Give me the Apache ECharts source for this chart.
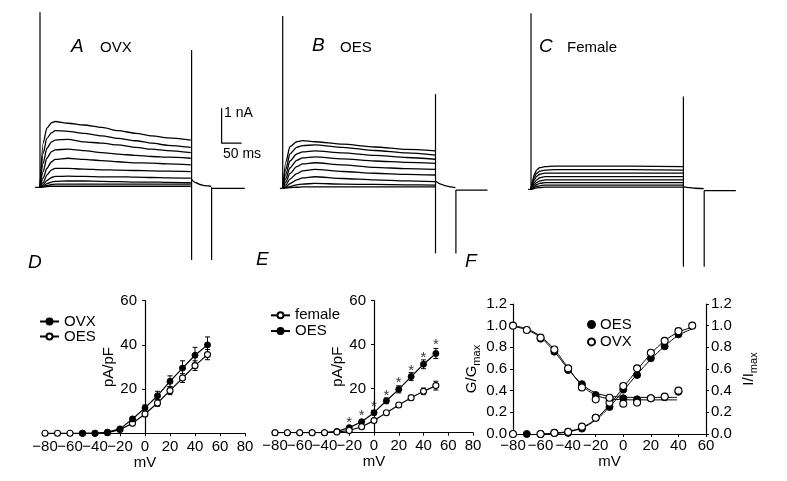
<!DOCTYPE html>
<html><head><meta charset="utf-8">
<script src="https://cdn.jsdelivr.net/npm/echarts@6/dist/echarts.min.js"></script>
<style>html,body{margin:0;padding:0;background:#fff}#c{width:787px;height:481px}</style>
</head><body><div id="c"></div>
<script>
// ===== Data: current traces (time in ms, current in nA) =====
const A_t = [0,8,17,29,38,70,110,155,195,240,280,320,377];
const A_I = [
 [0,1.26,1.69,1.85,1.88,1.83,1.78,1.71,1.62,1.54,1.47,1.41,1.35],
 [0,0.97,1.40,1.56,1.62,1.60,1.54,1.47,1.40,1.33,1.26,1.20,1.14],
 [0,0.69,1.11,1.30,1.35,1.37,1.30,1.26,1.21,1.14,1.09,1.05,0.99],
 [0,0.45,0.83,1.02,1.07,1.09,1.05,0.99,0.95,0.91,0.88,0.86,0.83],
 [0,0.26,0.54,0.73,0.80,0.83,0.80,0.76,0.73,0.70,0.69,0.67,0.64],
 [0,0.13,0.35,0.50,0.54,0.54,0.52,0.50,0.49,0.48,0.47,0.46,0.45],
 [0,0.07,0.19,0.28,0.31,0.32,0.31,0.30,0.30,0.29,0.28,0.27,0.26],
 [0,0.03,0.10,0.15,0.17,0.18,0.18,0.17,0.16,0.15,0.15,0.14,0.13],
 [0,0.01,0.05,0.08,0.09,0.09,0.09,0.09,0.09,0.09,0.09,0.09,0.09],
 [0,0.01,0.02,0.03,0.03,0.03,0.03,0.03,0.03,0.03,0.03,0.03,0.03]
];
const A_preT = [-12, 0];
const A_tailT = [379,390,400,412,428];
const A_tailI = [0.22,0.13,0.08,0.05,0.03];
const A_postT = [429,512];
const A_postI = [-0.03,-0.03];
const A_spikeT = [0,379,429];
const A_spikeHi = [5.0,3.92,0];
const A_spikeLo = [0,-2.08,-2.08];

const B_t = [0,8,18,35,50,80,150,230,310,382];
const B_I = [
 [0,0.75,1.19,1.33,1.36,1.33,1.26,1.18,1.11,1.07],
 [0,0.55,0.98,1.17,1.22,1.24,1.17,1.08,1.01,0.95],
 [0,0.40,0.78,0.98,1.04,1.07,1.01,0.94,0.88,0.83],
 [0,0.28,0.58,0.80,0.87,0.90,0.84,0.78,0.74,0.71],
 [0,0.18,0.42,0.62,0.70,0.73,0.67,0.60,0.56,0.54],
 [0,0.10,0.26,0.42,0.50,0.54,0.48,0.43,0.40,0.38],
 [0,0.05,0.13,0.24,0.30,0.33,0.28,0.24,0.21,0.19],
 [0,0.02,0.05,0.10,0.12,0.14,0.12,0.11,0.10,0.09],
 [0,0.01,0.02,0.03,0.04,0.04,0.04,0.04,0.04,0.04]
];
const B_preT = [-7, 0];
const B_tailT = [383,395,408,420,432];
const B_tailI = [0.20,0.12,0.07,0.04,0.02];
const B_postT = [433,512];
const B_postI = [-0.05,-0.05];
const B_spikeT = [0,382,433];
const B_spikeHi = [4.92,2.69,-0.05];
const B_spikeLo = [0,-1.86,-1.86];

const C_t = [0,4,8,14,22,35,60,150,250,380];
const C_I = [
 [0,0.25,0.42,0.55,0.62,0.65,0.66,0.66,0.66,0.65],
 [0,0.20,0.34,0.46,0.52,0.55,0.56,0.56,0.56,0.55],
 [0,0.15,0.27,0.37,0.43,0.46,0.46,0.46,0.46,0.46],
 [0,0.10,0.19,0.27,0.33,0.36,0.36,0.36,0.36,0.36],
 [0,0.07,0.13,0.19,0.24,0.27,0.27,0.27,0.27,0.27],
 [0,0.04,0.08,0.13,0.17,0.19,0.19,0.19,0.19,0.19],
 [0,0.02,0.05,0.08,0.10,0.12,0.12,0.12,0.12,0.12],
 [0,0.01,0.02,0.04,0.05,0.06,0.06,0.06,0.06,0.06]
];
const C_preT = [-7, 0];
const C_tailT = [382,395,410,432];
const C_tailI = [0.07,0.05,0.03,0.02];
const C_postT = [433,512];
const C_postI = [-0.04,-0.04];
const C_spikeT = [0,381,433];
const C_spikeHi = [5.03,2.65,-0.04];
const C_spikeLo = [0,-2.21,-2.21];

// scale bar: 1 nA / 50 ms
const scaleT0 = 454, scaleI0 = 1.26, scaleMs = 50, scaleNA = 1;

// ===== Panel D: current density (pA/pF) vs mV =====
const mVTicksEven = [-80,-40,0,40,80];
const mVTicksOdd = [-60,-20,20,60];
const D_mV_OVX = [-50,-40,-30,-20,-10,0,10,20,30,40,50];
const D_OVX = [0,0,0.5,2,6.5,11.5,17,23.5,29.5,35.3,40];
const D_OVX_err = [0,0,0.3,0.6,1.0,1.3,2.0,2.5,3.3,3.6,3.6];
const D_mV_OES = [-80,-70,-60,-50,-40,-30,-20,-10,0,10,20,30,40,50];
const D_OES = [0,0,0,0,0,0.3,1.7,4.5,8.7,13.7,19.3,25,30.6,35.6];
const D_OES_err = [0,0,0,0,0,0.2,0.5,0.8,1.2,1.5,1.8,2.0,2.2,2.3];

// ===== Panel E =====
const E_mV = [-80,-70,-60,-50,-40,-30,-20,-10,0,10,20,30,40,50];
const E_female = [0,0,0,0,0,0.3,1,2.7,5.5,9.1,12.6,15.9,18.8,21.4];
const E_female_err = [0,0,0,0,0,0.2,0.3,0.5,0.7,0.8,1.0,1.2,1.5,2.0];
const E_OES = [0,0,0,0,0,0.6,2.3,5,9.1,14.5,19.7,25.5,31.1,36];
const E_OES_err = [0,0,0,0,0,0.3,0.6,0.8,1.0,1.3,1.6,1.8,2.0,2.3];
const E_star_mV = [-20,-10,0,10,20,30,40,50];
const E_star_y = [6.5,9.3,13.6,18.6,24.4,30,35.8,41.8];

// ===== Panel F: normalized G and I =====
const F_act_mV_OES = [-70,-60,-50,-40,-30,-20,-10,0,10,20,30,40];
const F_act_OES = [0.0,0.0,0.01,0.01,0.05,0.15,0.25,0.41,0.545,0.70,0.81,0.92];
const F_act_mV_OVX = [-80,-60,-50,-40,-30,-20,-10,0,10,20,30,40,50];
const F_act_OVX = [0.0,0.0,0.01,0.02,0.068,0.15,0.29,0.443,0.606,0.75,0.86,0.95,1.0];
const F_inact_mV_OVX = [-80,-70,-60,-50,-40,-30,-20,-10,0,10,20,30,40];
const F_inact_OVX = [1.0,0.96,0.89,0.78,0.606,0.43,0.32,0.335,0.28,0.29,0.33,0.345,0.40];
const F_inact_mV_OES = [-60,-50,-40,-30,-20,-10,0,10,20,30,40];
const F_inact_OES = [0.88,0.76,0.59,0.46,0.36,0.33,0.33,0.32,0.33,0.34,0.39];
// fitted curves
const F_fitI_mV = [-80,-70,-60,-50,-40,-30,-20,-10,0,10,20,30,39];
const F_fitI_OVX = [1.0,0.97,0.9,0.78,0.61,0.45,0.36,0.325,0.317,0.315,0.315,0.315,0.315];
const F_fitI_OES = [0.995,0.96,0.89,0.76,0.60,0.46,0.38,0.35,0.34,0.338,0.338,0.338,0.338];
const F_fitG_mV = [-60,-50,-40,-30,-20,-10,0,10,20,30,40,50];
const F_fitG_OVX = [0.0,0.008,0.025,0.06,0.14,0.27,0.43,0.59,0.74,0.86,0.94,0.985];
const F_fitG_OES = [0.0,0.005,0.02,0.055,0.13,0.25,0.40,0.55,0.69,0.81,0.91,0.97];

// ===== build =====
const FONT = '"Liberation Sans", Arial, sans-serif';
const zip = (xs, ys) => xs.map((x, i) => [x, ys[i]]);
const minus = v => String(v).replace('-', '\u2212');
const K = '#000';

function spikeRender(params, api) {
  const a = api.coord([api.value(0), api.value(1)]);
  const b = api.coord([api.value(0), api.value(2)]);
  return {type: 'line', shape: {x1: a[0], y1: a[1], x2: b[0], y2: b[1]}, style: {stroke: K, lineWidth: 1.2}};
}
function errRender(params, api) {
  const x = api.value(0), lo = api.value(1), hi = api.value(2);
  const a = api.coord([x, lo]), b = api.coord([x, hi]);
  const w = 2.5;
  return {type: 'group', children: [
    {type: 'line', shape: {x1: a[0], y1: a[1], x2: b[0], y2: b[1]}, style: {stroke: K, lineWidth: 1}},
    {type: 'line', shape: {x1: b[0]-w, y1: b[1], x2: b[0]+w, y2: b[1]}, style: {stroke: K, lineWidth: 1}},
    {type: 'line', shape: {x1: a[0]-w, y1: a[1], x2: a[0]+w, y2: a[1]}, style: {stroke: K, lineWidth: 1}}
  ]};
}
const series = [];
function tracePanel(gi, tArr, I, preT, tailT, tailI, postT, postI, sT, sHi, sLo) {
  const ln = (data) => ({type: 'line', xAxisIndex: gi, yAxisIndex: gi, data, symbol: 'none', silent: true,
    smooth: 0.25, smoothMonotone: 'x', lineStyle: {color: K, width: 1.3}, animation: false});
  I.forEach(v => series.push(ln(zip(tArr, v))));
  series.push(ln(zip(preT, preT.map(() => 0))));
  series.push(ln(zip(tailT, tailI)));
  series.push(ln(zip(postT, postI)));
  series.push({type: 'custom', xAxisIndex: gi, yAxisIndex: gi, renderItem: spikeRender, silent: true, clip: false,
    data: sT.map((t, i) => [t, sLo[i], sHi[i]])});
}
tracePanel(0, A_t, A_I, A_preT, A_tailT, A_tailI, A_postT, A_postI, A_spikeT, A_spikeHi, A_spikeLo);
tracePanel(1, B_t, B_I, B_preT, B_tailT, B_tailI, B_postT, B_postI, B_spikeT, B_spikeHi, B_spikeLo);
tracePanel(2, C_t, C_I, C_preT, C_tailT, C_tailI, C_postT, C_postI, C_spikeT, C_spikeHi, C_spikeLo);
// scale bar
series.push({type: 'line', xAxisIndex: 0, yAxisIndex: 0, symbol: 'none', silent: true,
  data: [[scaleT0, scaleI0 + scaleNA], [scaleT0, scaleI0], [scaleT0 + scaleMs, scaleI0]],
  lineStyle: {color: K, width: 1.2}});

const openItem = {color: '#fff', borderColor: K, borderWidth: 1.1, opacity: 1};
const fillItem = {color: K, borderColor: K, borderWidth: 1, opacity: 1};
function errSeries(ai, xs, ys, es) {
  return {type: 'custom', xAxisIndex: ai, yAxisIndex: ai, renderItem: errRender, silent: true, clip: false, z: 1,
    data: xs.map((x, i) => [x, ys[i] - es[i], ys[i] + es[i]])};
}
function ivLine(name, ai, xs, ys, item) {
  return {name, type: 'line', xAxisIndex: ai, yAxisIndex: ai, data: zip(xs, ys), symbol: 'circle', symbolSize: 6,
    itemStyle: item, lineStyle: {color: K, width: 1.2}, z: 3, animation: false};
}
// D
series.push(errSeries(3, D_mV_OES, D_OES, D_OES_err));
series.push(errSeries(3, D_mV_OVX, D_OVX, D_OVX_err));
series.push(ivLine('OES|D', 3, D_mV_OES, D_OES, openItem));
series.push(ivLine('OVX|D', 3, D_mV_OVX, D_OVX, fillItem));
// E
series.push(errSeries(4, E_mV, E_OES, E_OES_err));
series.push(errSeries(4, E_mV, E_female, E_female_err));
series.push(ivLine('OES|E', 4, E_mV, E_OES, fillItem));
series.push(ivLine('female|E', 4, E_mV, E_female, openItem));
series.push({type: 'scatter', xAxisIndex: 4, yAxisIndex: 4, data: zip(E_star_mV, E_star_y), symbolSize: 1,
  itemStyle: {color: 'rgba(0,0,0,0)'}, silent: true, z: 5,
  label: {show: true, position: 'inside', formatter: '*', fontSize: 15, color: K, fontFamily: FONT, offset: [0, 4]}});
// F
const fitLine = (xs, ys, yi) => ({type: 'line', xAxisIndex: 5, yAxisIndex: yi, data: zip(xs, ys), symbol: 'none',
  smooth: 0.4, silent: true, lineStyle: {color: K, width: 1}, z: 2});
series.push(fitLine(F_fitI_mV, F_fitI_OVX, 6));
series.push(fitLine(F_fitI_mV, F_fitI_OES, 6));
series.push(fitLine(F_fitG_mV, F_fitG_OVX, 5));
series.push(fitLine(F_fitG_mV, F_fitG_OES, 5));
const sc = (name, xs, ys, yi, item) => ({name, type: 'scatter', xAxisIndex: 5, yAxisIndex: yi, data: zip(xs, ys),
  symbol: 'circle', symbolSize: 7, itemStyle: item, z: 3});
series.push(sc('OES|F', F_act_mV_OES, F_act_OES, 5, fillItem));
series.push(sc('OES|F', F_inact_mV_OES, F_inact_OES, 6, fillItem));
series.push(sc('OVX|F', F_act_mV_OVX, F_act_OVX, 5, openItem));
series.push(sc('OVX|F', F_inact_mV_OVX, F_inact_OVX, 6, openItem));

const hidden = (gi, min, max) => ({gridIndex: gi, type: 'value', min, max, show: false});
const axLine = {lineStyle: {color: K, width: 1.2}};
const lbl = (extra) => Object.assign({color: K, fontSize: 15, fontFamily: FONT}, extra);
function ivX(gi, min, max, gap, margin, custom) {
  const ax = {gridIndex: gi, type: 'value', min, max, interval: 20,
    axisLine: Object.assign({onZero: false}, axLine),
    axisTick: {show: true, length: 3, lineStyle: {color: K, width: 1}},
    axisLabel: lbl({margin, formatter: minus, showMinLabel: true, showMaxLabel: true, hideOverlap: false}),
    splitLine: {show: false},
    name: 'mV', nameLocation: 'middle', nameGap: gap, nameTextStyle: lbl({})};
  if (custom) ax.axisLabel.customValues = custom;
  return ax;
}
// second label-only axis so that touching labels are not dropped
function ivXLabels(gi, min, max, margin, custom) {
  return {gridIndex: gi, type: 'value', min, max, position: 'bottom',
    axisLine: {show: false, onZero: false}, axisTick: {show: false}, splitLine: {show: false},
    axisLabel: lbl({margin, formatter: minus, customValues: custom, hideOverlap: false})};
}
function ivY(gi, gap, off) {
  return {gridIndex: gi, type: 'value', min: 0, max: 60, interval: 20, position: 'left', offset: off,
    axisLine: Object.assign({onZero: false}, axLine),
    axisTick: {show: true, length: 3, lineStyle: {color: K, width: 1}},
    axisLabel: lbl({margin: 8, formatter: v => v === 0 ? '' : String(v)}), splitLine: {show: false},
    name: 'pA/pF', nameLocation: 'middle', nameGap: gap, nameRotate: 90, nameTextStyle: lbl({})};
}
function normY(pos, nm, gap, margin) {
  return {gridIndex: 5, type: 'value', position: pos, min: 0, max: 1.2, interval: 0.2,
    axisLine: Object.assign({onZero: false, show: true}, axLine),
    axisTick: {show: true, length: 3, lineStyle: {color: K, width: 1}},
    axisLabel: lbl({margin, formatter: v => v.toFixed(1)}), splitLine: {show: false},
    name: '{m|' + nm + '}{s|max}', nameLocation: 'middle', nameGap: gap, nameRotate: 90,
    nameTextStyle: {color: K, fontFamily: FONT, rich: {
      m: {fontSize: 15, color: K, fontFamily: FONT},
      s: {fontSize: 11, color: K, fontFamily: FONT, padding: [9, 0, 0, 0]}}}};
}

const legendBase = (left, top, data, lh, iw, ih) => ({left, top, orient: 'vertical', padding: 0, itemGap: 0,
  itemWidth: iw, itemHeight: ih, data, formatter: n => n.split('|')[0], selectedMode: false,
  textStyle: {color: K, fontSize: 15, fontFamily: FONT, lineHeight: lh}});

const tx = (x, y, text, font) => ({type: 'text', x, y, silent: true,
  style: {text, font, fill: K, align: 'left', verticalAlign: 'middle'}});
const IT = 'italic 19px ' + FONT, NT = '15px ' + FONT, ST = '14px ' + FONT;

const option = {
  animation: false,
  backgroundColor: '#fff',
  grid: [
    {left: 35, top: 8.8, width: 210, height: 259},
    {left: 277.7, top: 9.8, width: 210, height: 259},
    {left: 526, top: 10.8, width: 210, height: 259},
    {left: 45, top: 300.7, width: 200, height: 132.6},
    {left: 275, top: 300.7, width: 198, height: 132},
    {left: 513, top: 304, width: 193, height: 130}
  ],
  xAxis: [
    hidden(0, -12.5, 512.5), hidden(1, -12.5, 512.5), hidden(2, -12.5, 512.5),
    ivX(3, -80, 80, 21, 6, mVTicksEven), ivX(4, -80, 80, 21, 6, mVTicksEven), ivX(5, -80, 60, 19, 4, null),
    ivXLabels(3, -80, 80, 6, mVTicksOdd), ivXLabels(4, -80, 80, 6, mVTicksOdd)
  ],
  yAxis: [
    hidden(0, -2.3, 5.1), hidden(1, -2.3, 5.1), hidden(2, -2.3, 5.1),
    ivY(3, 29, -100), ivY(4, 27, -99),
    normY('left', 'G/G', 30, 6), normY('right', 'I/I', 33, 5)
  ],
  legend: [
    legendBase(39, 314, ['OVX|D', 'OES|D'], 14, 19, 7.5),
    legendBase(270, 307.5, ['female|E', 'OES|E'], 15.7, 19, 7.5),
    legendBase(587, 315.8, ['OES|F', 'OVX|F'], 17.4, 7, 7)
  ],
  graphic: [
    tx(71, 47, 'A', IT), tx(100, 48, 'OVX', NT),
    tx(312, 46, 'B', IT), tx(340, 48, 'OES', NT),
    tx(539, 47, 'C', IT), tx(567, 48, 'Female', NT),
    tx(28, 263, 'D', IT), tx(256, 260, 'E', IT), tx(465, 262, 'F', IT),
    tx(224, 113, '1 nA', ST), tx(223, 154, '50 ms', ST)
  ],
  series
};
const chart = echarts.init(document.getElementById('c'), null, {renderer: 'canvas'});
chart.setOption(option);
</script>
</body></html>
